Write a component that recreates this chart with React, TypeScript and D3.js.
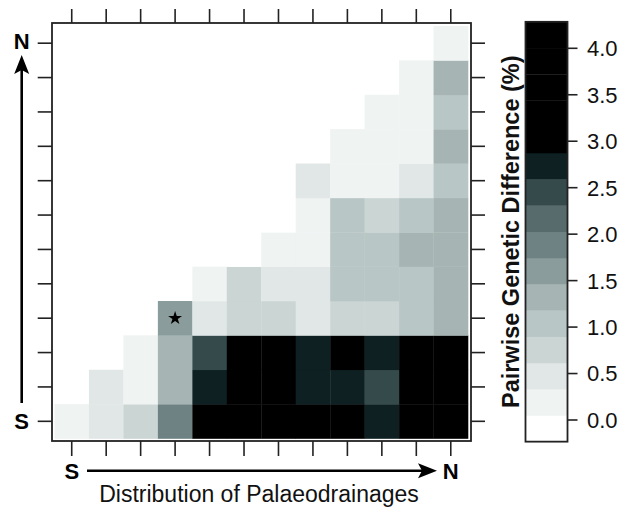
import React from "react";
import * as d3 from "d3";

const W = 627;
const H = 508;

// Palaeodrainages, ordered from south to north
const drainages = ["1", "2", "3", "4", "5", "6", "7", "8", "9", "10", "11", "12"];

// Pairwise genetic difference (%). diffRows[j] holds the values between
// drainage j and drainages j, j+1, ..., 12 (upper triangle incl. diagonal).
const diffRows: number[][] = [
  [0.2, 0.45, 0.72, 1.9, 3.6, 3.9, 4.1, 3.8, 3.7, 2.7, 3.9, 4.2],
  [0.45, 0.2, 1.3, 2.7, 3.5, 3.7, 2.75, 2.7, 2.45, 3.9, 4.0],
  [0.2, 1.3, 2.45, 3.4, 3.6, 2.7, 3.1, 2.75, 3.8, 3.9],
  [1.6, 0.45, 0.72, 0.72, 0.45, 0.75, 0.72, 1.0, 1.3],
  [0.2, 0.72, 0.45, 0.45, 1.0, 1.05, 1.0, 1.3],
  [0.0, 0.2, 0.2, 1.0, 1.0, 1.3, 1.3],
  [0.0, 0.2, 1.0, 0.75, 1.05, 1.3],
  [0.45, 0.2, 0.2, 0.45, 1.0],
  [0.2, 0.2, 0.2, 1.3],
  [0.2, 0.2, 1.0],
  [0.2, 1.3],
  [0.2],
];

// Drainage pair marked with a star
const starred = { row: 3, col: 3 };

// Colour key
const legendTicks = [0, 0.5, 1, 1.5, 2, 2.5, 3, 3.5, 4];
const zDomain: [number, number] = [-0.233, 4.285];
const palette = [
  "#ffffff", "#eff3f2", "#e1e7e6", "#cbd5d4", "#b8c6c5", "#a6b5b4",
  "#8a9c9b", "#6f8283", "#586b6c", "#354a4b", "#0e2022",
  "#000000", "#000000", "#000000", "#000000", "#000000",
];

const FONT = "'Liberation Sans', Arial, Helvetica, sans-serif";
const INK = "#222";

export default function App() {
  const x = d3.scaleBand<string>().domain(drainages).range([54.5, 468]);
  const y = d3.scaleBand<string>().domain(drainages).range([438.5, 26]);
  const bw = x.bandwidth();
  const bh = y.bandwidth();

  const color = d3.scaleQuantize<string>().domain(zDomain).range(palette);

  const cells = diffRows.flatMap((vals, j) =>
    vals.map((v, k) => ({ row: j, col: j + k, value: v }))
  );

  const box = { x0: 52, x1: 471, y0: 23, y1: 441 };

  // colour key geometry
  const key = { x0: 525.5, x1: 567.5 };
  const ky = d3.scaleLinear().domain([0, 4]).range([420, 48.3]);
  const step = (zDomain[1] - zDomain[0]) / palette.length;
  const bands = palette.map((c, i) => ({
    c,
    top: ky(zDomain[0] + (i + 1) * step),
    bot: ky(zDomain[0] + i * step),
  }));

  const star = d3.symbol(d3.symbolStar, 60)() as string;

  const colCenters = drainages.map((d) => (x(d) as number) + bw / 2);
  const rowCenters = drainages.map((d) => (y(d) as number) + bh / 2);

  // arrows
  const vx = 21.7;
  const vTip = 55;
  const hy = 470.7;
  const hTip = 437;

  return (
    <svg
      width={W}
      height={H}
      style={{ position: "absolute", left: 0, top: 0, background: "#fff" }}
      fontFamily={FONT}
    >
      {/* heat map cells */}
      <g>
        {cells.map((c) => (
          <rect
            key={`${c.row}-${c.col}`}
            x={x(drainages[c.col])}
            y={y(drainages[c.row])}
            width={bw + 0.3}
            height={bh + 0.3}
            fill={color(c.value)}
          />
        ))}
      </g>
      <path
        d={star}
        transform={`translate(${colCenters[starred.col]},${rowCenters[starred.row]})`}
        fill="#000"
      />

      {/* frame */}
      <rect
        x={box.x0}
        y={box.y0}
        width={box.x1 - box.x0}
        height={box.y1 - box.y0}
        fill="none"
        stroke={INK}
        strokeWidth={1.8}
      />

      {/* ticks on all four sides */}
      <g stroke={INK} strokeWidth={1.6}>
        {colCenters.map((cx, i) => (
          <g key={`tx${i}`}>
            <line x1={cx} x2={cx} y1={box.y0} y2={9} />
            <line x1={cx} x2={cx} y1={box.y1} y2={456} />
          </g>
        ))}
        {rowCenters.map((cy, i) => (
          <g key={`ty${i}`}>
            <line x1={box.x0} x2={37.7} y1={cy} y2={cy} />
            <line x1={box.x1} x2={485} y1={cy} y2={cy} />
          </g>
        ))}
      </g>

      {/* south-north arrow on the left */}
      <line x1={vx} x2={vx} y1={403} y2={vTip + 15} stroke="#000" strokeWidth={2.6} />
      <path
        d={`M${vx},${vTip} L${vx - 7.5},${vTip + 19} L${vx},${vTip + 15} L${vx + 7.5},${vTip + 19} Z`}
        fill="#000"
      />
      <text x={vx} y={rowCenters[11] - 2} dy="0.36em" textAnchor="middle" fontWeight="bold" fontSize={22}>
        N
      </text>
      <text x={vx} y={rowCenters[0]} dy="0.36em" textAnchor="middle" fontWeight="bold" fontSize={22}>
        S
      </text>

      {/* south-north arrow along the bottom */}
      <line x1={87} x2={hTip - 15} y1={hy} y2={hy} stroke="#000" strokeWidth={2.6} />
      <path
        d={`M${hTip},${hy} L${hTip - 19},${hy - 7.5} L${hTip - 15},${hy} L${hTip - 19},${hy + 7.5} Z`}
        fill="#000"
      />
      <text x={colCenters[0]} y={hy} dy="0.36em" textAnchor="middle" fontWeight="bold" fontSize={22}>
        S
      </text>
      <text x={colCenters[11]} y={hy} dy="0.36em" textAnchor="middle" fontWeight="bold" fontSize={22}>
        N
      </text>
      <text x={259} y={501.5} textAnchor="middle" fontSize={23} fill="#111">
        Distribution of Palaeodrainages
      </text>

      {/* colour key */}
      <g>
        {bands.map((b, i) => (
          <rect
            key={`k${i}`}
            x={key.x0}
            y={b.top}
            width={key.x1 - key.x0}
            height={b.bot - b.top + 0.3}
            fill={b.c}
          />
        ))}
        <rect
          x={key.x0}
          y={ky(zDomain[1])}
          width={key.x1 - key.x0}
          height={ky(zDomain[0]) - ky(zDomain[1])}
          fill="none"
          stroke={INK}
          strokeWidth={1.8}
        />
        {legendTicks.map((t) => (
          <g key={`lt${t}`} transform={`translate(0,${ky(t)})`}>
            <line x1={key.x1} x2={577.5} stroke={INK} strokeWidth={1.6} />
            <text x={587} dy="0.36em" fontSize={22} fill="#111">
              {d3.format(".1f")(t)}
            </text>
          </g>
        ))}
        <text
          transform={`translate(518.5,${(ky(zDomain[0]) + ky(zDomain[1])) / 2}) rotate(-90)`}
          textAnchor="middle"
          fontWeight="bold"
          fontSize={23.5}
          fill="#111"
        >
          Pairwise Genetic Difference (%)
        </text>
      </g>
    </svg>
  );
}
